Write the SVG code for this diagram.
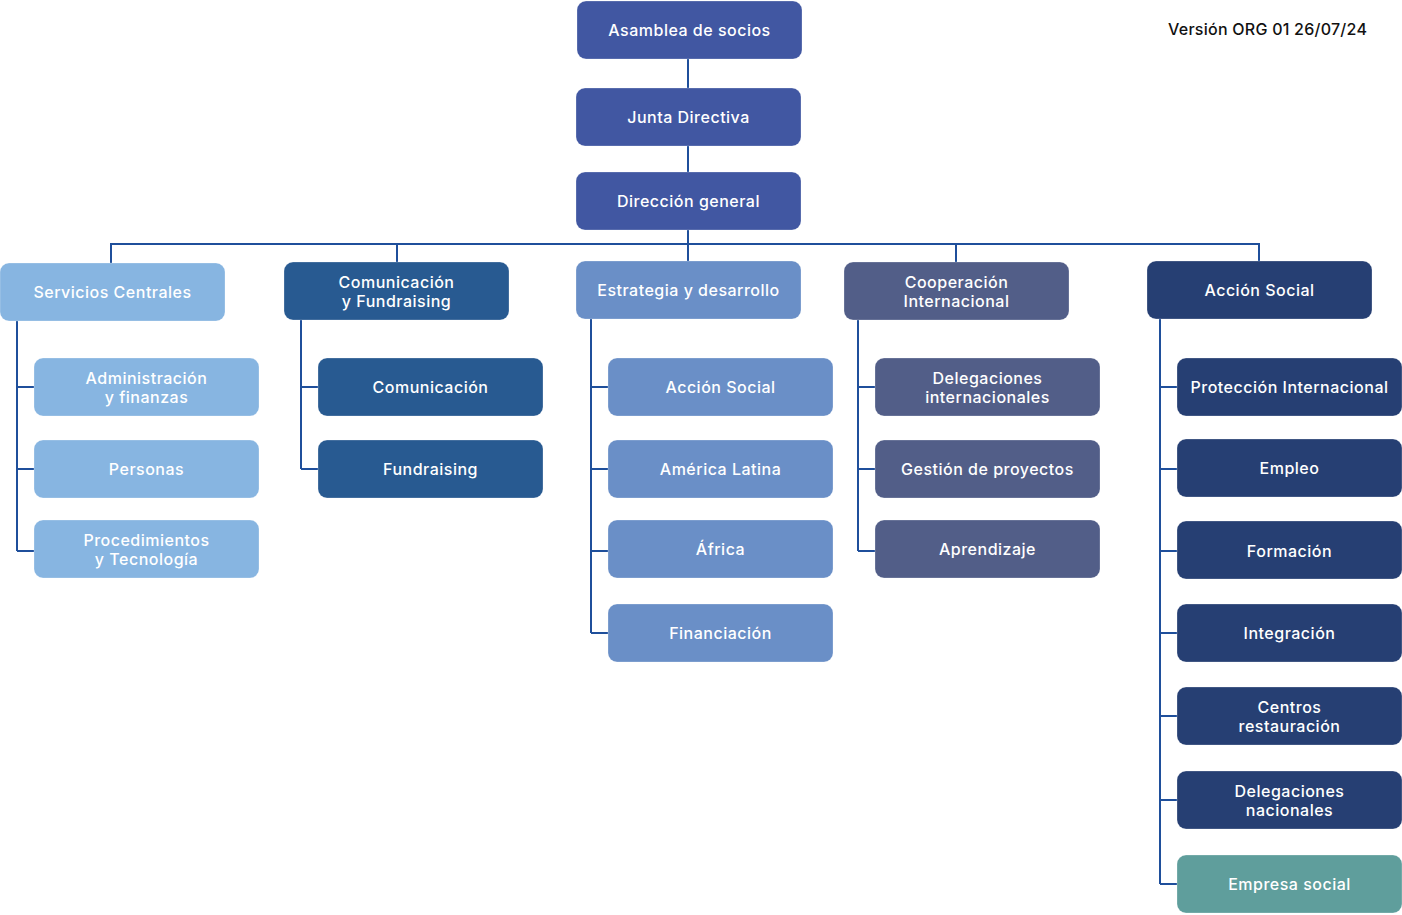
<svg xmlns="http://www.w3.org/2000/svg" width="1402" height="915" viewBox="0 0 1402 915">
<style>
.b{stroke:#ffffff;stroke-opacity:0.25;stroke-width:1}
.t{font-family:Inter,"Open Sans","Liberation Sans",sans-serif;font-size:16px;font-weight:500;letter-spacing:0.5px;fill:#ffffff;text-anchor:middle;dominant-baseline:central}
.top{fill:#4157a2}.sc{fill:#87b5e1}.cf{fill:#285a91}.ed{fill:#6a8fc7}.ci{fill:#525e88}.as{fill:#263f73}.es{fill:#5f9e9c}
.c{fill:none;stroke:#1f4f9b;stroke-width:2}
.v{font-family:Inter,"Open Sans","Liberation Sans",sans-serif;font-size:16px;font-weight:500;letter-spacing:0.25px;fill:#111111}
</style>
<rect width="1402" height="915" fill="#ffffff"/>
<g id="connectors">
<path class="c" d="M688 59V88M688 146V172M688 230V261M111 263V244H1259V261M397 244V262M956 244V262"/>
<path class="c" d="M17 321V551M17 387H34M17 469H34M17 551H34"/>
<path class="c" d="M301 320V469M301 387H318M301 469H318"/>
<path class="c" d="M591 319V633M591 387H608M591 469H608M591 551H608M591 633H608"/>
<path class="c" d="M858 320V551M858 387H875M858 469H875M858 551H875"/>
<path class="c" d="M1160 319V884M1160 387H1177M1160 469H1177M1160 551H1177M1160 633H1177M1160 716H1177M1160 800H1177M1160 884H1177"/>
</g>
<text class="v" x="1168" y="35">Versión ORG 01 26/07/24</text>
<g id="asamblea"><rect class="top b" x="577" y="1" width="225" height="58" rx="9"/><text class="t" x="689.5" y="30">Asamblea de socios</text></g>
<g id="junta"><rect class="top b" x="576" y="88" width="225" height="58" rx="9"/><text class="t" x="688.5" y="117">Junta Directiva</text></g>
<g id="direccion"><rect class="top b" x="576" y="172" width="225" height="58" rx="9"/><text class="t" x="688.5" y="201">Dirección general</text></g>

<g id="servicios"><rect class="sc b" x="0" y="263" width="225" height="58" rx="9"/><text class="t" x="112.5" y="292">Servicios Centrales</text></g>
<g id="admin"><rect class="sc b" x="34" y="358" width="225" height="58" rx="9"/><text class="t" x="146.5" y="378">Administración</text><text class="t" x="146.5" y="397">y finanzas</text></g>
<g id="personas"><rect class="sc b" x="34" y="440" width="225" height="58" rx="9"/><text class="t" x="146.5" y="469">Personas</text></g>
<g id="procedimientos"><rect class="sc b" x="34" y="520" width="225" height="58" rx="9"/><text class="t" x="146.5" y="540">Procedimientos</text><text class="t" x="146.5" y="559">y Tecnología</text></g>

<g id="comfund"><rect class="cf b" x="284" y="262" width="225" height="58" rx="9"/><text class="t" x="396.5" y="282">Comunicación</text><text class="t" x="396.5" y="301">y Fundraising</text></g>
<g id="comunicacion"><rect class="cf b" x="318" y="358" width="225" height="58" rx="9"/><text class="t" x="430.5" y="387">Comunicación</text></g>
<g id="fundraising"><rect class="cf b" x="318" y="440" width="225" height="58" rx="9"/><text class="t" x="430.5" y="469">Fundraising</text></g>

<g id="estrategia"><rect class="ed b" x="576" y="261" width="225" height="58" rx="9"/><text class="t" x="688.5" y="290">Estrategia y desarrollo</text></g>
<g id="ed-accion"><rect class="ed b" x="608" y="358" width="225" height="58" rx="9"/><text class="t" x="720.5" y="387">Acción Social</text></g>
<g id="ed-america"><rect class="ed b" x="608" y="440" width="225" height="58" rx="9"/><text class="t" x="720.5" y="469">América Latina</text></g>
<g id="ed-africa"><rect class="ed b" x="608" y="520" width="225" height="58" rx="9"/><text class="t" x="720.5" y="549">África</text></g>
<g id="ed-financiacion"><rect class="ed b" x="608" y="604" width="225" height="58" rx="9"/><text class="t" x="720.5" y="633">Financiación</text></g>

<g id="cooperacion"><rect class="ci b" x="844" y="262" width="225" height="58" rx="9"/><text class="t" x="956.5" y="282">Cooperación</text><text class="t" x="956.5" y="301">Internacional</text></g>
<g id="delegaciones-int"><rect class="ci b" x="875" y="358" width="225" height="58" rx="9"/><text class="t" x="987.5" y="378">Delegaciones</text><text class="t" x="987.5" y="397">internacionales</text></g>
<g id="gestion"><rect class="ci b" x="875" y="440" width="225" height="58" rx="9"/><text class="t" x="987.5" y="469">Gestión de proyectos</text></g>
<g id="aprendizaje"><rect class="ci b" x="875" y="520" width="225" height="58" rx="9"/><text class="t" x="987.5" y="549">Aprendizaje</text></g>

<g id="accion-social"><rect class="as b" x="1147" y="261" width="225" height="58" rx="9"/><text class="t" x="1259.5" y="290">Acción Social</text></g>
<g id="proteccion"><rect class="as b" x="1177" y="358" width="225" height="58" rx="9"/><text class="t" x="1289.5" y="387">Protección Internacional</text></g>
<g id="empleo"><rect class="as b" x="1177" y="439" width="225" height="58" rx="9"/><text class="t" x="1289.5" y="468">Empleo</text></g>
<g id="formacion"><rect class="as b" x="1177" y="521" width="225" height="58" rx="9"/><text class="t" x="1289.5" y="551">Formación</text></g>
<g id="integracion"><rect class="as b" x="1177" y="604" width="225" height="58" rx="9"/><text class="t" x="1289.5" y="633">Integración</text></g>
<g id="centros"><rect class="as b" x="1177" y="687" width="225" height="58" rx="9"/><text class="t" x="1289.5" y="707">Centros</text><text class="t" x="1289.5" y="726">restauración</text></g>
<g id="delegaciones-nac"><rect class="as b" x="1177" y="771" width="225" height="58" rx="9"/><text class="t" x="1289.5" y="791">Delegaciones</text><text class="t" x="1289.5" y="810">nacionales</text></g>
<g id="empresa-social"><rect class="es b" x="1177" y="855" width="225" height="58" rx="9"/><text class="t" x="1289.5" y="884">Empresa social</text></g>
</svg>
